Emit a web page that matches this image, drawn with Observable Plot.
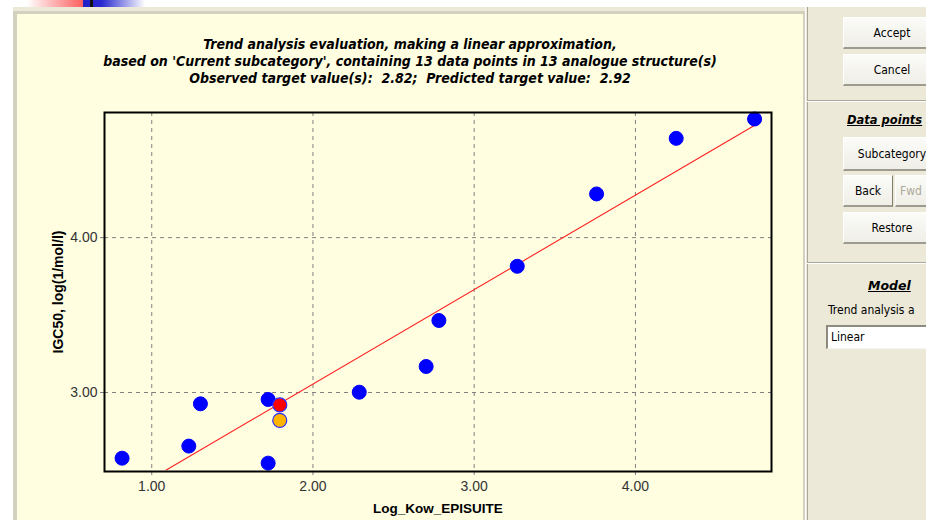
<!DOCTYPE html>
<html>
<head>
<meta charset="utf-8">
<script src="https://cdn.jsdelivr.net/npm/d3@7"></script>
<script src="https://cdn.jsdelivr.net/npm/@observablehq/plot@0.6"></script>
<style>
  html, body { margin: 0; padding: 0; }
  body { width: 926px; height: 520px; position: relative; overflow: hidden; background: #fff; }
  .abs { position: absolute; }
  .ui { font-family: "DejaVu Sans Condensed", "DejaVu Sans", sans-serif; font-size: 12px; color: #000; }
  .btn { position: absolute; box-sizing: border-box; background: linear-gradient(#fbfbf8, #efeee7); border-top: 1px solid #fff; border-left: 1px solid #fff; border-right: 1px solid #7f7d72; border-bottom: 2px solid #9d9b8f; display: flex; align-items: center; justify-content: center; }
  .sep { position: absolute; left: 807px; width: 119px; height: 1px; background: #aca899; border-bottom: 1px solid #fff; }
  #title { position: absolute; left: 17px; width: 786px; top: 36px; text-align: center; font-family: "DejaVu Sans Condensed", "DejaVu Sans", sans-serif; font-weight: bold; font-style: italic; font-size: 14px; line-height: 17px; white-space: pre; color: #000; }
  #chart { position: absolute; left: 17px; top: 95px; }
</style>
</head>
<body>
<!-- window decoration -->
<div class="abs" style="left:27px;top:0;width:56px;height:7px;background:linear-gradient(to right,#fff,#ff6060);"></div>
<div class="abs" style="left:83px;top:0;width:62px;height:7px;background:linear-gradient(to right,#2020c8,#2a2ad0 30%,#fff);"></div>
<div class="abs" style="left:90px;top:0;width:3px;height:7px;background:#111;"></div>
<div class="abs" style="left:13px;top:7px;width:913px;height:513px;background:#ece9d8;"></div>
<div class="abs" style="left:13px;top:11px;width:792px;height:509px;background:#d4d0c0;"></div>
<div class="abs" style="left:17px;top:14px;width:786px;height:506px;background:#fffee1;"></div>
<div class="abs" style="left:805px;top:7px;width:1px;height:513px;background:#fff;"></div>
<div class="abs" style="left:807px;top:7px;width:1px;height:513px;background:#aca899;"></div>

<!-- right panel -->
<div class="btn ui" style="left:843px;top:17px;width:98px;height:32px;">Accept</div>
<div class="btn ui" style="left:843px;top:54px;width:98px;height:32px;">Cancel</div>
<div class="sep" style="top:100px;"></div>
<div class="abs" style="left:847px;top:113px;font-family:'DejaVu Sans',sans-serif;font-weight:bold;font-style:italic;font-size:11.5px;text-decoration:underline;white-space:nowrap;">Data points</div>
<div class="btn ui" style="left:843px;top:137px;width:98px;height:34px;">Subcategory</div>
<div class="btn ui" style="left:843px;top:175px;width:50px;height:32px;">Back</div>
<div class="btn ui" style="left:895px;top:175px;width:31px;height:32px;color:#aca899;border-right:none;">Fwd</div>
<div class="btn ui" style="left:843px;top:212px;width:98px;height:32px;">Restore</div>
<div class="sep" style="top:262px;"></div>
<div class="abs" style="left:868px;top:278px;font-family:'DejaVu Sans',sans-serif;font-weight:bold;font-style:italic;font-size:12.5px;text-decoration:underline;">Model</div>
<div class="abs ui" style="left:828px;top:303px;white-space:nowrap;">Trend analysis a</div>
<div class="abs ui" style="left:826px;top:325px;width:120px;height:24px;box-sizing:border-box;background:#fff;border-top:2px solid #8d8b80;border-left:2px solid #8d8b80;border-bottom:1px solid #f5f4ee;padding-left:3px;line-height:21px;">Linear</div>

<div id="title">Trend analysis evaluation, making a linear approximation,
based on 'Current subcategory', containing 13 data points in 13 analogue structure(s)
Observed target value(s):  2.82;  Predicted target value:  2.92</div>

<div id="chart"></div>

<script>
// analogue structures
const kow   = [0.816, 1.23, 1.302, 1.722, 1.722, 2.287, 2.702, 2.781, 3.267, 3.759, 4.253, 4.739];
const igc50 = [2.576, 2.654, 2.927, 2.955, 2.544, 3.002, 3.168, 3.465, 3.815, 4.282, 4.641, 4.766];
// target chemical
const targetKow = [1.794];
const observedIgc50 = [2.82];
const predictedIgc50 = [2.92];
// linear trend (endpoints of the drawn segment)
const trendKow = [1.09, 4.78];
const trendIgc50 = [2.50, 4.75];
// ticks and labels
const xTicks = [1, 2, 3, 4];
const yTicks = [3, 4];
const xLabel = "Log_Kow_EPISUITE";
const yLabel = "IGC50, log(1/mol/l)";

const points = kow.map((x, i) => ({x, y: igc50[i]}));
const observed = targetKow.map((x, i) => ({x, y: observedIgc50[i]}));
const predicted = targetKow.map((x, i) => ({x, y: predictedIgc50[i]}));
const trend = trendKow.map((x, i) => ({x, y: trendIgc50[i]}));

const grid = {stroke: "#808080", strokeOpacity: 1, strokeDasharray: "4,4", strokeWidth: 1};

const chart = Plot.plot({
  width: 786,
  height: 425,
  marginLeft: 87,
  marginRight: 32,
  marginTop: 17,
  marginBottom: 49,
  style: {background: "transparent", fontFamily: "'Liberation Sans', Arial, sans-serif", fontSize: "14px", color: "#333", overflow: "visible"},
  x: {domain: [0.707, 4.844]},
  y: {domain: [2.49, 4.808]},
  marks: [
    Plot.gridX(xTicks, grid),
    Plot.gridY(yTicks, grid),
    Plot.axisX(xTicks, {tickFormat: d => d.toFixed(2), tickSize: 5, tickPadding: 5, ...grid, label: null}),
    Plot.axisY(yTicks, {tickFormat: d => d.toFixed(2), tickSize: 5, tickPadding: 2, ...grid, label: null}),
    Plot.line(trend, {x: "x", y: "y", stroke: "#ff2020", strokeWidth: 1.1}),
    Plot.dot(points, {x: "x", y: "y", r: 7, fill: "#0000ff", stroke: "#0000ff", strokeWidth: 1}),
    Plot.dot(observed, {x: "x", y: "y", r: 7, fill: "#ffb400", stroke: "#2a2aff", strokeWidth: 1.2}),
    Plot.dot(predicted, {x: "x", y: "y", r: 7, fill: "#ff0000", stroke: "#2a2aff", strokeWidth: 1.2}),
    Plot.frame({stroke: "#000", strokeWidth: 2}),
    Plot.text([xLabel], {frameAnchor: "bottom", dy: 37, lineAnchor: "middle", fontWeight: "bold", fontSize: 13.5, fill: "#000"}),
    Plot.text([yLabel], {frameAnchor: "left", dx: -46, rotate: -90, textAnchor: "middle", lineAnchor: "middle", fontWeight: "bold", fontSize: 14, fill: "#000"})
  ]
});
document.getElementById("chart").appendChild(chart);
</script>
</body>
</html>
